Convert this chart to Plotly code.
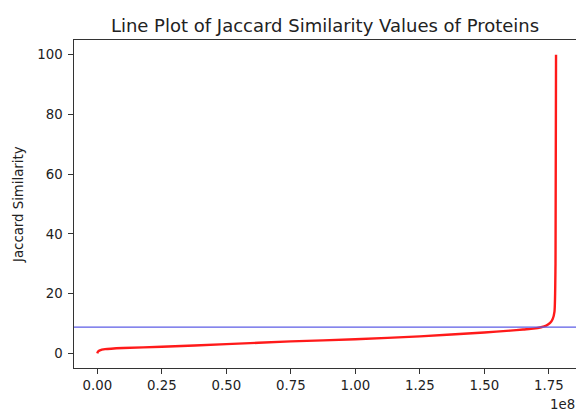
import plotly.graph_objects as go

# Sorted Jaccard similarity values (index -> value)
rank = [0, 0.002e8, 0.01e8, 0.03e8, 0.1e8, 0.25e8, 0.5e8, 0.75e8, 1.0e8, 1.25e8,
        1.5e8, 1.6e8, 1.65e8, 1.69e8, 1.72e8, 1.74e8, 1.755e8, 1.765e8, 1.772e8,
        1.776e8, 1.778e8]
similarity = [0.0, 0.5, 1.0, 1.4, 1.8, 2.2, 3.1, 4.0, 4.7, 5.7,
              7.0, 7.6, 8.0, 8.3, 8.75, 9.3, 10.2, 11.5, 14.0,
              30.0, 100.0]
threshold = 8.75

x_ticks = [0, 0.25e8, 0.5e8, 0.75e8, 1.0e8, 1.25e8, 1.5e8, 1.75e8]
x_tick_labels = ["0.00", "0.25", "0.50", "0.75", "1.00", "1.25", "1.50", "1.75"]
y_ticks = [0, 20, 40, 60, 80, 100]

FONT = "DejaVu Sans"
TXT = "#222222"
AX = "#333333"

fig = go.Figure()
fig.add_trace(go.Scatter(x=rank, y=similarity, mode="lines",
                         line=dict(color="#ff1a1a", width=2.4, shape="spline", smoothing=0.6),
                         showlegend=False, hoverinfo="skip"))
fig.add_hline(y=threshold, line=dict(color="#5c5ce6", width=1.2))

fig.update_layout(
    width=576, height=412,
    margin=dict(l=74, r=0, t=40, b=44),
    paper_bgcolor="white", plot_bgcolor="white",
    font=dict(family=FONT, size=13.3, color=TXT),
    title=dict(text="Line Plot of Jaccard Similarity Values of Proteins",
               font=dict(family=FONT, size=18, color=TXT),
               x=(325 - 74) / 502, xref="paper", xanchor="center",
               y=1 - 26 / 412, yref="container", yanchor="middle"),
    xaxis=dict(range=[-0.0903e8, 1.8554e8], tickvals=x_ticks, ticktext=x_tick_labels,
               showgrid=False, zeroline=False, showline=True, linecolor=AX, linewidth=1.2,
               mirror=True, ticks="outside", ticklen=4.5, tickwidth=1, tickcolor=AX,
               tickfont=dict(family=FONT, size=13.3, color=TXT)),
    yaxis=dict(range=[-4.9, 104.9], tickvals=y_ticks,
               showgrid=False, zeroline=False, showline=True, linecolor=AX, linewidth=1.2,
               ticks="outside", ticklen=4.5, tickwidth=1, tickcolor=AX,
               ticklabelstandoff=3,
               tickfont=dict(family=FONT, size=13.3, color=TXT)),
    annotations=[
        dict(text="Jaccard Similarity", textangle=-90, xref="paper", yref="paper",
             x=(18.3 - 74) / 502, y=(368.3 - 205) / 328, xanchor="center", yanchor="middle",
             showarrow=False, font=dict(family=FONT, size=13.3, color=TXT)),
        dict(text="1e8", xref="paper", yref="paper",
             x=(577 - 74) / 502, y=(368.3 - 405) / 328, xanchor="right", yanchor="middle",
             showarrow=False, font=dict(family=FONT, size=13.3, color=TXT)),
    ],
)

fig.write_html("out.html", config={"displayModeBar": False},
               post_script="document.body.style.margin='0px';document.body.style.overflow='hidden';")
